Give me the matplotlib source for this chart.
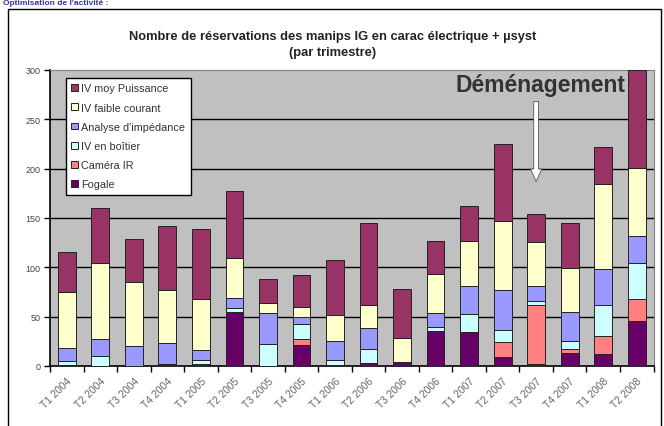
import matplotlib
matplotlib.use("Agg")
import matplotlib.pyplot as plt
import numpy as np
from matplotlib.patches import Rectangle

plt.rcParams['font.family'] = ['Liberation Sans', 'DejaVu Sans']

categories = ["T1 2004", "T2 2004", "T3 2004", "T4 2004", "T1 2005", "T2 2005",
              "T3 2005", "T4 2005", "T1 2006", "T2 2006", "T3 2006", "T4 2006",
              "T1 2007", "T2 2007", "T3 2007", "T4 2007", "T1 2008", "T2 2008"]

fogale      = [1, 0, 0, 2, 2, 55, 0, 21, 1, 3, 4, 35, 34, 9, 2, 13, 12, 46]
camera_ir   = [0, 0, 0, 0, 0, 0, 0, 6, 0, 0, 0, 0, 0, 15, 60, 4, 18, 22]
iv_boitier  = [4, 10, 0, 0, 4, 4, 22, 16, 5, 14, 0, 5, 19, 12, 4, 8, 32, 36]
impedance   = [13, 17, 20, 21, 10, 10, 32, 7, 19, 22, 0, 14, 28, 41, 15, 30, 36, 28]
iv_faible   = [57, 77, 65, 54, 52, 40, 10, 10, 27, 23, 24, 39, 46, 70, 45, 44, 86, 69]
iv_moy      = [41, 56, 44, 65, 71, 68, 24, 32, 55, 83, 50, 34, 35, 78, 28, 46, 38, 99]

series = [
    ("Fogale", fogale, "#660066"),
    ("Caméra IR", camera_ir, "#FF8080"),
    ("IV en boîtier", iv_boitier, "#CCFFFF"),
    ("Analyse d'impédance", impedance, "#9999FF"),
    ("IV faible courant", iv_faible, "#FFFFCC"),
    ("IV moy Puissance", iv_moy, "#993366"),
]

title = "Nombre de réservations des manips IG en carac électrique + µsyst\n(par trimestre)"
annotation = "Déménagement"
heading = "Optimisation de l'activité :"
yticks = [0, 50, 100, 150, 200, 250, 300]

fig = plt.figure(figsize=(6.64, 4.27), dpi=100)
fig.patch.set_facecolor("white")

# outer chart border
fig.patches.append(Rectangle((8 / 664, -0.01), (661 - 8) / 664, 1 - 10 / 427 + 0.01,
                             transform=fig.transFigure, fill=False,
                             edgecolor="black", linewidth=1.0))

# slide heading at the top (cropped in the reference)
fig.text(0.005, 0.999, heading, color="#3333AA",
         fontsize=6, fontweight="bold", ha="left", va="top")

ax = fig.add_axes([50 / 664, (427 - 367) / 427, 603.5 / 664, 296 / 427])
ax.set_facecolor("#C0C0C0")

x = np.arange(len(categories))
bottom = np.zeros(len(categories))
handles = []
for name, vals, col in series:
    b = ax.bar(x, vals, bottom=bottom, width=0.53, color=col,
               edgecolor="#222222", linewidth=0.7, label=name, zorder=3)
    handles.append(b)
    bottom += np.array(vals)

ax.set_xlim(-0.5, len(categories) - 0.5)
ax.set_ylim(0, 300)
ax.set_yticks(yticks)
ax.set_yticklabels([str(v) for v in yticks], fontsize=6.5, color="#444444")
for v in yticks[1:-1]:
    ax.axhline(v, color="black", linewidth=1.0, zorder=1)

ax.set_xticks(x)
ax.set_xticklabels(categories, rotation=45, ha="right", rotation_mode="anchor",
                   fontsize=7.5, color="#666666")
ax.set_xticks(np.arange(-0.5, len(categories), 1), minor=True)
ax.tick_params(axis="x", which="major", length=0, pad=7)
ax.tick_params(axis="x", which="minor", length=4, width=1, color="black")
ax.tick_params(axis="y", length=4, width=1, color="black", pad=3)

for s in ["top", "right"]:
    ax.spines[s].set_color("#808080")
    ax.spines[s].set_linewidth(0.8)
for s in ["left", "bottom"]:
    ax.spines[s].set_color("black")
    ax.spines[s].set_linewidth(1.2)

leg = ax.legend(handles[::-1], [s[0] for s in series][::-1],
                loc="upper left", bbox_to_anchor=(0.0265, 0.973),
                fontsize=7.8, frameon=True, fancybox=False, edgecolor="black",
                handlelength=0.6, handleheight=0.6, handletextpad=0.3,
                labelspacing=0.85, borderpad=0.5, borderaxespad=0.0)
leg.get_frame().set_linewidth(1.0)
leg.get_frame().set_facecolor("white")
leg.get_frame().set_alpha(1)
for t in leg.get_texts():
    t.set_color("#333333")

fig.text(333 / 664, 1 - 45 / 427, title, ha="center", va="center",
         fontsize=9.3, fontweight="bold", color="#222222", linespacing=1.45)

# Déménagement annotation and arrow above T3 2007
ax.text(0.953, 0.95, annotation, transform=ax.transAxes, ha="right", va="center",
        fontsize=16.5, fontweight="bold", color="#333333", zorder=5)
ax.annotate("", xy=(14, 187), xytext=(14, 268),
            arrowprops=dict(arrowstyle="simple,head_width=0.8,head_length=0.9,tail_width=0.35",
                            facecolor="white", edgecolor="#555555", linewidth=0.6,
                            shrinkA=0, shrinkB=0), zorder=6)

fig.savefig("out.png", dpi=100)
